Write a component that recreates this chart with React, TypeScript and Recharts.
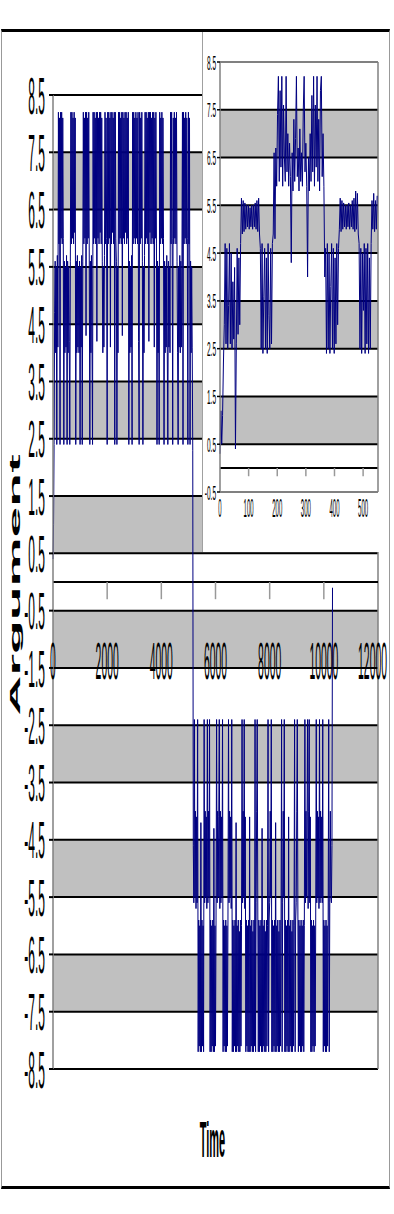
import React from "react"
import {
  ComposedChart,
  LineChart,
  Line,
  Scatter,
  XAxis,
  YAxis,
  ReferenceArea,
  ReferenceLine,
} from "recharts"

// whole run, one reading every 20 time units
const SIGNAL_STEP = 20
const signal = [
  // upper regime
  0.4, 1.0, 2.4, 4.7, 5.6, 4.0, 5.5, 2.4, 5.7, 4.1,
  8.2, 5.9, 8.1, 2.4, 8.2, 6.0, 8.2, 5.9, 8.1, 6.0, 2.4,
  5.6, 4.0, 5.5, 4.1, 5.7, 2.4, 5.6, 4.0, 5.5, 4.2, 2.4, 5.6,
  8.2, 5.9, 8.2, 6.0, 8.1, 5.9, 8.2, 6.1, 8.1, 2.4,
  5.6, 4.0, 5.7, 4.1, 5.5, 4.0, 5.6, 2.4, 5.5, 4.1, 5.7, 2.4, 5.6,
  8.2, 5.9, 8.1, 6.0, 8.2, 4.3, 8.2, 5.9, 8.1, 6.0, 8.2,
  5.5, 2.4, 5.6, 4.0, 5.7, 4.1,
  2.4, 8.2, 5.9, 8.2, 6.0, 8.1, 5.9, 8.2, 4.2, 8.2, 6.0, 8.1, 5.9, 8.2, 6.1, 8.2, 5.9, 8.1,
  5.6, 4.0, 5.5, 4.1, 5.7,
  8.2, 5.9, 8.1, 6.0, 2.4, 8.2, 5.9, 8.2, 6.0, 8.1, 4.1, 8.2, 5.9, 8.2, 6.1, 8.1, 5.9, 8.2, 2.4, 8.2, 6.0,
  5.6, 2.4, 5.5, 4.0,
  8.2, 5.9, 8.2, 6.0, 8.1, 5.9, 8.2, 4.3, 8.2, 6.0, 8.1, 5.9, 8.2, 6.1, 8.2, 5.9, 8.1, 6.0, 8.2,
  2.4, 5.6, 4.0, 5.5, 4.1, 5.7,
  2.4, 8.2, 5.9, 8.2, 6.0, 8.1, 5.9, 8.2, 6.0, 8.1, 5.9, 8.2, 4.2, 2.4, 8.2, 5.9, 8.1, 6.0, 8.2,
  5.6, 2.4, 5.5, 4.0, 5.7,
  8.2, 5.9, 8.2, 6.0, 8.1, 5.9, 8.2, 4.2, 8.2, 6.1, 8.2, 5.9, 8.1, 6.0, 8.2, 5.9, 8.2, 4.1, 8.1, 6.0, 8.2, 5.9,
  2.4, 5.6, 4.0, 5.5,
  2.4, 8.2, 5.9, 8.1, 6.0, 8.2, 5.9, 8.1, 6.0, 2.4,
  5.6, 4.0, 5.5, 4.1, 5.7, 4.0, 2.4, 5.6, 4.1, 5.5, 4.0,
  8.2, 5.9, 8.2, 6.0, 2.4, 8.1, 5.9, 8.2, 6.0, 8.1, 5.9, 8.2,
  5.6, 4.0, 2.4, 5.5, 4.1, 5.7, 4.0, 5.6, 4.1, 5.5,
  8.2, 2.4, 8.2, 5.9, 8.1, 6.0, 8.2, 5.9, 8.1, 6.0, 2.4, 8.2, 5.9, 8.1,
  2.4, 5.6, 4.0, 5.5, 4.1, 2.3,
  // lower regime
  -4.6,
  -5.6, -2.4, -5.5, -4.0, -5.7, -4.1, -5.6, -2.4,
  -8.2, -5.9, -8.1, -6.0, -8.2, -4.2, -8.2, -5.9, -8.1, -6.0, -8.2,
  -2.4, -5.6, -4.0, -5.5, -4.1, -5.7, -2.4, -5.6, -4.0, -5.5, -2.4,
  -8.2, -5.9, -8.2, -6.0, -8.1, -5.9, -8.2, -4.3, -8.2, -6.0, -8.1, -5.9,
  -2.4, -5.6, -4.0, -5.5, -4.1, -2.4, -5.7, -4.0, -5.6, -4.1, -5.5,
  -2.4, -8.2, -5.9, -8.1, -6.0, -8.2, -5.9, -8.2, -6.0, -8.1, -5.9, -2.4,
  -5.6, -4.0, -5.5, -4.1, -5.7,
  -2.4, -8.2, -5.9, -8.2, -6.0, -8.1, -5.9, -8.2, -4.2, -8.2, -6.0, -8.1, -5.9, -8.2, -6.1, -8.2, -5.9, -8.1, -6.0,
  -2.4, -5.6, -4.0, -5.5, -2.4, -5.7, -4.1,
  -8.2, -5.9, -8.1, -6.0, -8.2, -5.9, -8.2, -4.1, -8.2, -6.0, -8.1, -5.9, -8.2, -6.1, -8.2, -5.9, -8.1, -2.4, -8.2,
  -5.6, -4.0, -2.4, -5.5,
  -8.2, -5.9, -8.2, -6.0, -8.1, -5.9, -8.2, -4.3, -8.2, -6.0, -8.1, -5.9, -8.2, -6.1, -8.2, -5.9, -8.1, -6.0, -2.4, -8.2, -5.9,
  -5.6, -4.0, -5.5, -2.4,
  -8.2, -5.9, -8.2, -6.0, -8.1, -5.9, -8.2, -4.2, -8.2, -6.0, -8.1, -5.9, -8.2, -6.1, -8.2, -5.9, -8.1, -6.0, -2.4, -8.2,
  -5.6, -4.0, -5.5, -2.4,
  -8.2, -5.9, -8.2, -6.0, -8.1, -5.9, -8.2, -4.1, -8.2, -6.0, -8.1, -5.9, -8.2, -6.1, -8.2, -5.9, -8.1, -6.0, -2.4, -8.2, -5.9,
  -5.6, -4.0, -2.4, -5.5,
  -8.2, -5.9, -8.1, -6.0, -8.2, -5.9, -8.2, -6.0, -8.1, -5.9, -8.2, -6.0,
  -2.4, -5.6, -4.0, -5.5, -4.1, -2.4, -5.7, -4.0, -2.4, -5.6, -4.1,
  -8.2, -5.9, -8.2, -6.0, -8.1, -5.9, -8.2, -6.0, -8.1, -5.9, -2.4,
  -5.6, -4.0, -5.5, -4.1, -5.7, -2.4, -5.6, -4.0, -5.5, -4.1, -5.6,
  -2.4, -8.2, -5.9, -8.1, -6.0, -8.2, -5.9, -8.2, -6.0, -8.1, -5.9, -2.4, -8.2,
  -5.6, -4.0, -5.5, -5.6,
  -4.6, -0.1,
]

// first stretch of the run, one reading every 3 time units
const DETAIL_STEP = 3
const detail = [
  0.3, 1.2, 0.5, 1.1,
  2.2, 3.0, 4.7, 2.6, 4.6, 2.5, 3.4, 4.7, 2.6, 4.5, 2.5, 3.9, 2.7, 4.2, 0.4, 2.6, 4.6, 2.8, 4.4, 3.0, 4.7,
  5.65, 4.9, 5.6, 4.95, 5.55, 5.0, 5.5, 5.05, 5.5, 5.0, 5.45, 5.05, 5.5, 5.0, 5.5, 5.05, 5.55, 5.0, 5.6, 4.95, 5.65, 4.9,
  4.6, 2.5, 4.7, 2.4, 3.6, 4.6, 2.5, 4.4, 2.4, 4.7, 3.2, 2.5, 4.6, 2.6, 4.7,
  4.9, 6.6, 4.8, 6.7, 5.9, 7.4, 8.2, 6.0, 7.9, 6.3,
  8.2, 5.9, 7.6, 6.5, 6.0, 8.2, 6.2, 7.0, 5.9, 6.8,
  6.1, 4.3, 6.6, 5.8, 7.3, 6.0, 6.9, 8.2, 6.1, 6.7,
  5.8, 7.1, 6.0, 6.6, 5.9, 7.5, 8.2, 6.2, 6.8, 5.9,
  4.0, 6.5, 5.8, 7.0, 6.0, 7.8, 6.2, 8.2, 5.9, 7.6,
  6.3, 8.2, 6.0, 7.3, 5.8, 7.9, 8.2, 6.1, 7.0, 5.9, 4.0,
  4.6, 2.4, 4.7, 2.5, 4.5, 2.4, 3.8, 4.7, 2.5, 4.6, 2.4, 4.4, 2.6, 4.7, 3.0, 4.6,
  5.0, 5.65, 4.95, 5.6, 5.0, 5.55, 5.05, 5.5, 5.0, 5.5, 5.05, 5.55, 5.0, 5.5, 5.05, 5.6, 5.0, 5.65, 4.95, 5.8, 5.0, 5.75, 4.9,
  4.7, 2.5, 4.6, 2.4, 4.5, 3.3, 4.7, 2.4, 4.6, 2.6, 4.7, 2.4, 4.4, 2.5, 4.7,
  5.6, 5.0, 5.75, 4.95, 5.6, 5.0, 5.7,
]

const mainYTicks = [8.5, 7.5, 6.5, 5.5, 4.5, 3.5, 2.5, 1.5, 0.5, -0.5, -1.5, -2.5, -3.5, -4.5, -5.5, -6.5, -7.5, -8.5]
const mainXTicks = [0, 2000, 4000, 6000, 8000, 10000, 12000]
const mainBands = [[6.5, 7.5], [4.5, 5.5], [2.5, 3.5], [0.5, 1.5], [-1.5, -0.5], [-3.5, -2.5], [-5.5, -4.5], [-7.5, -6.5]]
const MAIN_X_MAX = 12000
const X_LABEL_LEVEL = -1.37

const insetYTicks = [8.5, 7.5, 6.5, 5.5, 4.5, 3.5, 2.5, 1.5, 0.5, -0.5]
const insetGrid = [7.5, 6.5, 5.5, 4.5, 3.5, 2.5, 1.5, 0.5, 0]
const insetXTicks = [0, 100, 200, 300, 400, 500]
const insetBands = [[6.5, 7.5], [4.5, 5.5], [2.5, 3.5], [0.5, 1.5]]
const INSET_X_MAX = 552

const signalData = signal.map((v, i) => ({ t: i * SIGNAL_STEP, v }))
const detailData = detail.map((v, i) => ({ t: i * DETAIL_STEP, v }))
const xLabelPoints = mainXTicks.map((t) => ({ t, v: X_LABEL_LEVEL }))

const FONT = '"Liberation Sans", Arial, Helvetica, sans-serif'
const NAVY = "#000080"
const SILVER = "#c0c0c0"
const BORDER = "#808080"

// the source picture is squashed sideways, so text is drawn tall and narrow
function TallText({ x, y, size, sy, anchor = "middle", children }: any) {
  return (
    <text
      transform={`translate(${x},${y}) scale(1,${sy})`}
      textAnchor={anchor}
      dy="0.36em"
      fontFamily={FONT}
      fontSize={size}
      fill="#000"
    >
      {children}
    </text>
  )
}

const MainYTick = (p: any) => (
  <TallText x={p.x} y={p.y} size={12} sy={4.3} anchor="end">
    {Number(p.payload.value).toFixed(1)}
  </TallText>
)

const MainXLabel = (p: any) => {
  const last = p.payload.t === MAIN_X_MAX
  return (
    <TallText x={last ? p.cx + 9 : p.cx} y={p.cy} size={10.4} sy={5} anchor={last ? "end" : "middle"}>
      {p.payload.t}
    </TallText>
  )
}

const InsetYTick = (p: any) => (
  <TallText x={p.x} y={p.y} size={6.5} sy={3.2} anchor="end">
    {Number(p.payload.value).toFixed(1)}
  </TallText>
)

const InsetXTick = (p: any) => (
  <TallText x={p.x} y={p.y + 16} size={6} sy={4.2}>
    {p.payload.value}
  </TallText>
)

const ArgumentTitle = (p: any) => {
  const vb = p.viewBox
  return (
    <text
      transform={`translate(${vb.x + 12},${vb.y + vb.height / 2 + 3}) rotate(-90) scale(3.95,1)`}
      textAnchor="middle"
      fontFamily={FONT}
      fontSize={14}
      fontWeight="bold"
      fill="#000"
    >
      Argument
    </text>
  )
}

const TimeTitle = (p: any) => {
  const vb = p.viewBox
  return (
    <text
      transform={`translate(${vb.x + vb.width / 2 - 3},${vb.y + 88}) scale(1,4.5)`}
      textAnchor="middle"
      fontFamily={FONT}
      fontSize={11}
      fontWeight="bold"
      fill="#000"
    >
      Time
    </text>
  )
}

function MainChart() {
  return (
    <ComposedChart width={394} height={1214} margin={{ top: 95, right: 16, bottom: 0, left: 8 }}>
      <XAxis
        type="number"
        dataKey="t"
        domain={[0, MAIN_X_MAX]}
        axisLine={false}
        tickLine={false}
        tick={false}
        height={145}
        label={<TimeTitle />}
      />
      <YAxis
        type="number"
        domain={[-8.5, 8.5]}
        ticks={mainYTicks}
        interval={0}
        width={45}
        tickSize={4}
        tickMargin={4}
        axisLine={{ stroke: BORDER, strokeWidth: 1.5 }}
        tickLine={{ stroke: "#000", strokeWidth: 2 }}
        tick={<MainYTick />}
        label={<ArgumentTitle />}
      />
      {mainBands.map(([lo, hi]) => (
        <ReferenceArea key={lo} y1={lo} y2={hi} fill={SILVER} fillOpacity={1} stroke="none" />
      ))}
      {mainYTicks.map((v) => (
        <ReferenceLine key={v} y={v} stroke="#000" strokeWidth={2} />
      ))}
      <ReferenceLine x={MAIN_X_MAX} stroke={BORDER} strokeWidth={1.5} />
      <ReferenceLine y={0} stroke="#000" strokeWidth={2} />
      {mainXTicks.slice(1, -1).map((t) => (
        <ReferenceLine key={t} segment={[{ x: t, y: 0 }, { x: t, y: -0.3 }]} stroke="#999" strokeWidth={1.5} />
      ))}
      <Line
        data={signalData}
        dataKey="v"
        type="linear"
        stroke={NAVY}
        strokeWidth={1}
        dot={false}
        activeDot={false}
        isAnimationActive={false}
      />
      <Scatter data={xLabelPoints} dataKey="v" shape={<MainXLabel />} isAnimationActive={false} />
    </ComposedChart>
  )
}

function InsetChart() {
  return (
    <LineChart width={185} height={520} margin={{ top: 30, right: 10, bottom: 0, left: 0 }}>
      <XAxis
        type="number"
        dataKey="t"
        domain={[0, INSET_X_MAX]}
        ticks={insetXTicks}
        interval={0}
        axisLine={false}
        tickLine={false}
        tickSize={0}
        tickMargin={0}
        height={60}
        tick={<InsetXTick />}
      />
      <YAxis
        type="number"
        domain={[-0.5, 8.5]}
        ticks={insetYTicks}
        interval={0}
        width={17}
        tickSize={3}
        tickMargin={1}
        axisLine={{ stroke: BORDER, strokeWidth: 1.5 }}
        tickLine={{ stroke: "#000", strokeWidth: 1.5 }}
        tick={<InsetYTick />}
      />
      {insetBands.map(([lo, hi]) => (
        <ReferenceArea key={lo} y1={lo} y2={hi} fill={SILVER} fillOpacity={1} stroke="none" />
      ))}
      {insetGrid.map((v) => (
        <ReferenceLine key={v} y={v} stroke="#000" strokeWidth={2} />
      ))}
      <ReferenceLine y={8.5} stroke={BORDER} strokeWidth={2} />
      <ReferenceLine y={-0.5} stroke={BORDER} strokeWidth={2} />
      <ReferenceLine x={INSET_X_MAX} stroke={BORDER} strokeWidth={1.5} />
      {insetXTicks.slice(1).map((t) => (
        <ReferenceLine key={t} segment={[{ x: t, y: 0 }, { x: t, y: -0.17 }]} stroke="#999" strokeWidth={1.5} />
      ))}
      <Line
        data={detailData}
        dataKey="v"
        type="linear"
        stroke={NAVY}
        strokeWidth={1}
        dot={false}
        activeDot={false}
        isAnimationActive={false}
      />
    </LineChart>
  )
}

export default function App() {
  return (
    <div style={{ position: "absolute", left: 0, top: 0, width: 394, height: 1214, background: "#fff" }}>
      <MainChart />
      <div
        style={{
          position: "absolute",
          left: 202,
          top: 32,
          width: 186,
          height: 520,
          background: "#fff",
          borderLeft: "1px solid #a0a0a0",
          boxSizing: "border-box",
        }}
      >
        <InsetChart />
      </div>
      <div
        style={{
          position: "absolute",
          left: 1,
          top: 29,
          width: 389,
          height: 1160,
          borderTop: "3px solid #000",
          borderBottom: "3px solid #000",
          borderLeft: "1px solid #999",
          borderRight: "1px solid #999",
          boxSizing: "border-box",
          pointerEvents: "none",
        }}
      />
    </div>
  )
}
